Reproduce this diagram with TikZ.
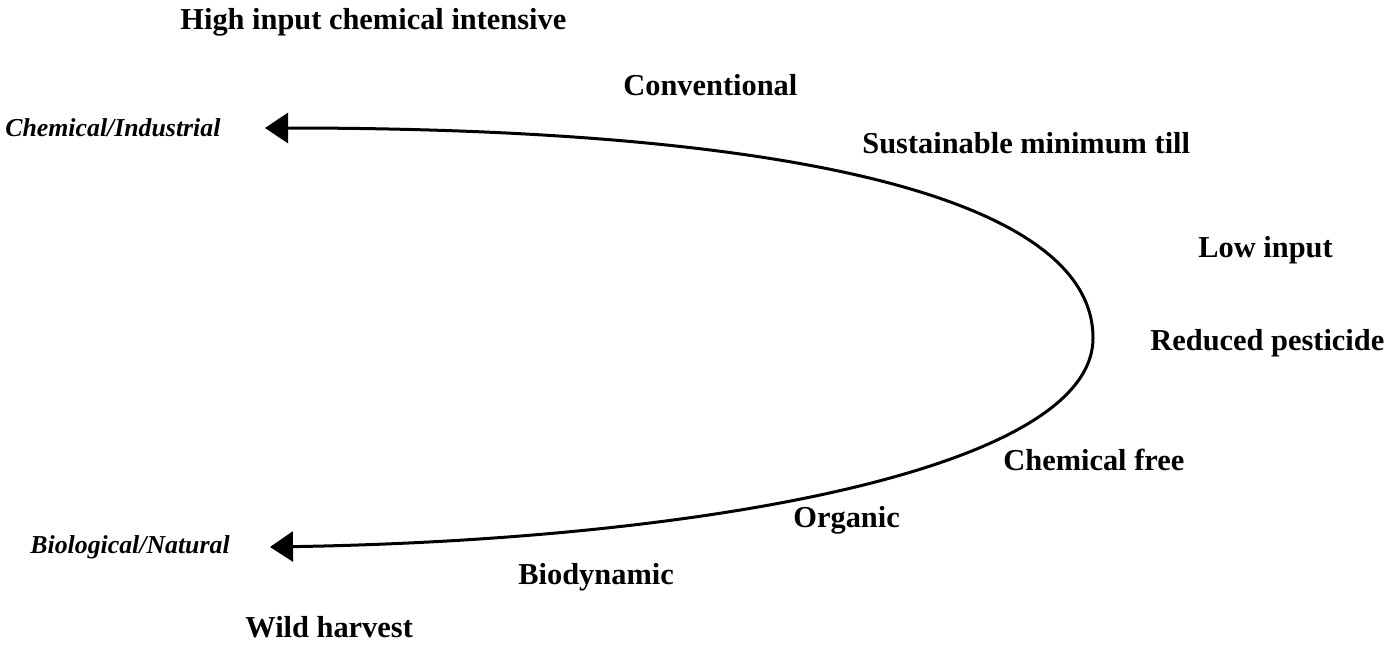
\documentclass[tikz,border=0pt]{standalone}
\usepackage{fontspec}
\setmainfont{Liberation Serif}
\usetikzlibrary{arrows.meta}
\begin{document}
\begin{tikzpicture}[x=0.5pt,y=-0.5pt,
  lbl/.style={font=\bfseries\fontsize{15.2}{17}\selectfont, inner sep=0pt, anchor=west},
  pole/.style={font=\bfseries\itshape\fontsize{12.9}{15}\selectfont, inner sep=0pt, anchor=west},
  curve/.style={line width=1.5pt, -{Triangle[length=11.5pt,width=15pt]}}]
\useasboundingbox (0,0) rectangle (1399,654);
\node[lbl] (high) at (180,22) {High input chemical intensive};
\node[lbl] (conv) at (623,85) {Conventional};
\node[lbl] (sust) at (862,143) {Sustainable minimum till};
\node[lbl] (low) at (1198,250) {Low input};
\node[lbl] (red) at (1150,343) {Reduced pesticide};
\node[lbl] (free) at (1003,460) {Chemical free};
\node[lbl] (org) at (793,520) {Organic};
\node[lbl] (biod) at (518,577) {Biodynamic};
\node[lbl] (wild) at (245,627) {Wild harvest};
\node[pole] (chem) at (5,128) {Chemical/Industrial};
\node[pole] (bio) at (30,547) {Biological/Natural};
\coordinate (tipA) at (265,128);
\coordinate (tipB) at (270,547);
\coordinate (turn) at (1093,338);
\draw[curve] (turn) .. controls (1093,200) and (800,128) .. (tipA);
\draw[curve] (turn) .. controls (1093,470) and (700,540) .. (tipB);
\end{tikzpicture}
\end{document}
